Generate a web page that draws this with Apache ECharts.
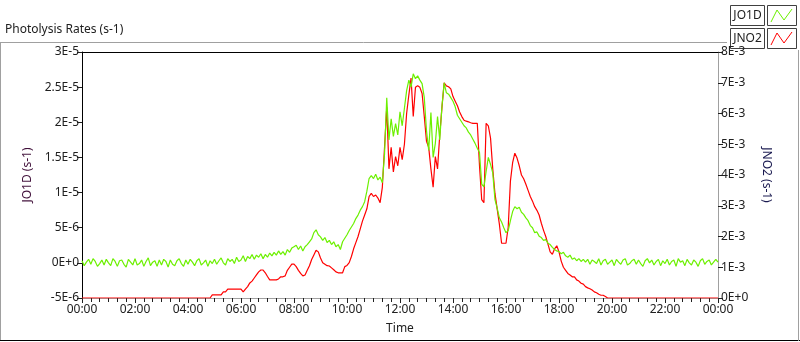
<!DOCTYPE html>
<html>
<head>
<meta charset="utf-8">
<script src="https://cdn.jsdelivr.net/npm/echarts@6/dist/echarts.min.js"></script>
<style>
html,body{margin:0;padding:0;background:#fff;}
#chart{width:800px;height:342px;}
</style>
</head>
<body>
<div id="chart"></div>
<script>
// Sample spacing (minutes) of the series below; first sample at 00:00, last at 24:00
var stepMinutes = 5;

// Tick labels of the time axis (every 2 hours)
var timeTickLabels = ['00:00','02:00','04:00','06:00','08:00','10:00','12:00','14:00','16:00','18:00','20:00','22:00','00:00'];

// JO1D in units of 1E-6 s-1 (left axis), one row per hour, 12 samples per hour
var jo1d = [
  0.3,-0.4,0.1,0.5,-0.2,0.6,0.2,-0.5,-0.1,0.4,-0.3,0.5,
  0.0,-0.4,0.6,0.2,-0.5,0.3,0.4,-0.2,-0.6,0.5,0.1,-0.3,
  0.6,-0.3,-0.1,0.4,-0.5,0.2,0.7,-0.4,0.1,0.3,-0.5,0.4,
  -0.3,0.5,0.2,-0.6,0.4,-0.2,-0.4,0.3,0.6,-0.1,-0.5,0.4,
  -0.2,0.5,0.1,-0.4,0.3,0.6,-0.3,0.0,0.4,-0.5,0.3,-0.1,
  0.5,-0.2,0.3,0.7,0.0,-0.3,0.6,0.2,0.5,-0.1,0.8,0.2,
  0.4,1.0,0.2,0.9,0.6,1.2,0.5,1.1,0.8,1.3,0.6,1.2,
  0.8,1.4,1.0,1.5,1.1,1.7,1.2,1.6,1.1,1.9,1.5,2.1,
  2.3,2.5,1.9,2.4,1.7,2.3,2.6,3.0,3.4,4.3,4.7,4.0,
  3.7,3.2,3.6,2.9,3.2,2.6,3.0,2.3,2.6,1.9,3.0,3.5,
  4.0,4.6,5.1,5.6,6.3,6.8,7.5,8.0,8.7,10.2,12.0,12.4,
  12.0,12.6,11.8,12.2,11.4,15.5,23.5,17.5,20.5,18.0,19.8,18.2,
  21.5,19.5,22.0,24.5,26.0,25.0,26.9,26.2,26.6,26.0,25.5,23.5,
  18.8,16.0,21.4,15.0,17.0,20.8,17.5,22.3,25.6,24.2,24.0,23.5,
  23.0,22.2,21.0,20.5,20.0,19.5,19.2,18.6,18.2,17.6,17.0,16.3,
  15.7,11.2,10.8,13.0,15.0,14.0,12.8,9.0,7.8,6.4,5.8,5.0,
  4.3,4.6,6.0,7.3,8.0,7.7,7.9,7.2,6.9,6.4,6.0,5.3,
  5.0,4.3,4.4,3.8,3.6,3.2,3.3,2.8,2.6,2.2,1.9,1.7,
  1.6,1.3,1.5,1.0,0.8,1.1,0.5,0.7,0.3,0.6,0.2,0.5,
  0.1,0.5,-0.2,0.4,0.2,-0.1,0.6,-0.3,0.3,0.5,-0.2,0.1,
  0.4,-0.4,0.5,0.1,-0.2,0.4,0.6,-0.3,-0.1,0.3,0.5,-0.2,
  0.4,-0.1,-0.5,0.3,0.6,0.0,0.4,-0.3,0.2,0.5,-0.4,0.3,
  -0.1,0.5,-0.3,0.2,0.4,-0.5,0.6,0.1,0.3,-0.4,0.5,0.0,
  -0.3,0.4,0.1,-0.5,0.3,0.6,-0.2,0.2,0.4,-0.3,0.1,0.5,
  0.1
];

// JNO2 in units of 1E-3 s-1 (right axis), one row per hour, 12 samples per hour
var jno2 = [
  0,0,0,0,0,0,0,0,0,0,0,0,
  0,0,0,0,0,0,0,0,0,0,0,0,
  0,0,0,0,0,0,0,0,0,0,0,0,
  0,0,0,0,0,0,0,0,0,0,0,0,
  0,0,0,0,0,0,0,0,0,0,0,0.1,
  0.1,0.1,0.1,0.1,0.2,0.2,0.29,0.29,0.29,0.29,0.29,0.29,
  0.29,0.2,0.29,0.37,0.49,0.55,0.65,0.75,0.85,0.91,0.91,0.82,
  0.7,0.59,0.59,0.59,0.59,0.62,0.69,0.69,0.72,0.9,1.0,1.1,
  1.1,1.02,0.9,0.8,0.72,0.75,0.9,1.05,1.25,1.4,1.55,1.5,
  1.3,1.15,1.1,1.05,1.04,0.98,0.92,0.85,0.82,0.82,0.82,1.02,
  1.06,1.15,1.35,1.6,1.8,2.0,2.25,2.5,2.7,2.9,3.3,3.4,
  3.3,3.35,3.25,3.1,3.6,4.9,6.2,4.2,4.9,4.1,4.6,4.3,
  4.9,4.5,5.0,6.0,6.6,7.15,5.9,6.85,6.9,6.85,6.65,5.9,
  5.1,4.9,4.2,3.6,4.6,4.2,5.3,6.2,7.0,6.9,6.87,6.8,
  6.55,6.4,6.25,6.05,5.9,5.78,5.75,5.73,5.7,5.68,5.68,5.68,
  4.3,3.2,3.1,5.68,5.6,5.2,4.2,3.4,2.9,2.4,1.78,1.78,
  1.78,2.3,3.8,4.4,4.71,4.55,4.3,4.0,3.88,3.7,3.5,3.3,
  3.15,2.97,2.85,2.7,2.43,2.2,2.0,1.75,1.5,1.42,1.6,1.7,
  1.5,1.2,1.0,0.9,0.8,0.75,0.69,0.69,0.59,0.55,0.48,0.45,
  0.37,0.33,0.3,0.26,0.2,0.17,0.12,0.09,0.09,0.05,0,0,
  0,0,0,0,0,0,0,0,0,0,0,0,
  0,0,0,0,0,0,0,0,0,0,0,0,
  0,0,0,0,0,0,0,0,0,0,0,0,
  0,0,0,0,0,0,0,0,0,0,0,0,
  0
];

var leftScale = 1e-6, rightScale = 1e-3;

function toPairs(arr) {
  return arr.map(function (v, i) { return [i * stepMinutes, v]; });
}
function sci(v, scale) {
  var real = v * scale;
  if (Math.abs(real) < 1e-15) return '0E+0';
  var e = Math.floor(Math.log10(Math.abs(real)) + 1e-9);
  var m = Math.round(real / Math.pow(10, e) * 100) / 100;
  return m + 'E' + (e >= 0 ? '+' + e : e);
}

var font = 'Noto Sans';
var chart = echarts.init(document.getElementById('chart'), null, {renderer: 'canvas'});
chart.setOption({
  animation: false,
  backgroundColor: '#ffffff',
  textStyle: {fontFamily: font},
  grid: {left: 82, right: 82, top: 52, bottom: 44, containLabel: false},
  xAxis: [{
    type: 'value', min: 0, max: 1440, interval: 120, position: 'bottom',
    name: 'Time', nameLocation: 'middle', nameGap: 25,
    nameTextStyle: {color: '#202020', fontSize: 12, fontFamily: font},
    axisLine: {onZero: false, lineStyle: {color: '#a0a0a0', width: 1}},
    axisTick: {show: true, length: 5, lineStyle: {color: '#202020'}},
    minorTick: {show: true, splitNumber: 6, length: 4, lineStyle: {color: '#202020'}},
    axisLabel: {color: '#202020', fontSize: 12, margin: 6, fontFamily: font,
      formatter: function (v) { return timeTickLabels[Math.round(v / 120)]; }},
    splitLine: {show: false}
  }, {
    type: 'value', min: 0, max: 1440, position: 'top',
    axisLine: {onZero: false, lineStyle: {color: '#000000', width: 1}},
    axisTick: {show: false}, axisLabel: {show: false}, splitLine: {show: false}
  }],
  yAxis: [{
    type: 'value', min: -5, max: 30, interval: 5, position: 'left',
    name: 'JO1D (s-1)', nameLocation: 'middle', nameGap: 46, nameRotate: 90,
    nameTextStyle: {color: '#40103a', fontSize: 12, fontFamily: font},
    axisLine: {show: true, onZero: false, lineStyle: {color: '#000000', width: 1}},
    axisTick: {show: true, length: 5, lineStyle: {color: '#202020'}},
    axisLabel: {color: '#202020', fontSize: 12, margin: 3, fontFamily: font,
      formatter: function (v) { return sci(v, leftScale); }},
    splitLine: {show: false}
  }, {
    type: 'value', min: 0, max: 8, interval: 1, position: 'right',
    name: 'JNO2 (s-1)', nameLocation: 'middle', nameGap: 42, nameRotate: -90,
    nameTextStyle: {color: '#1a1a50', fontSize: 12, fontFamily: font},
    axisLine: {show: true, onZero: false, lineStyle: {color: '#a0a0a0', width: 1}},
    axisTick: {show: true, length: 5, lineStyle: {color: '#202020'}},
    axisLabel: {color: '#202020', fontSize: 12, margin: 3, fontFamily: font,
      formatter: function (v) { return sci(v, rightScale); }},
    splitLine: {show: false}
  }],
  series: [{
    name: 'JNO2', type: 'line', yAxisIndex: 1, data: toPairs(jno2),
    showSymbol: false, symbol: 'none',
    lineStyle: {color: '#ff0000', width: 1.2}, itemStyle: {color: '#ff0000'}
  }, {
    name: 'JO1D', type: 'line', yAxisIndex: 0, data: toPairs(jo1d),
    showSymbol: false, symbol: 'none',
    lineStyle: {color: '#6cf000', width: 1.2}, itemStyle: {color: '#6cf000'}
  }],
  graphic: [
    {type: 'text', left: 5, top: 24, style: {text: 'Photolysis Rates (s-1)', fill: '#202020', font: '12px "Noto Sans"'}},
    {type: 'line', shape: {x1: 0, y1: 42.5, x2: 727, y2: 42.5}, style: {stroke: '#a0a0a0', lineWidth: 1}},
    {type: 'line', shape: {x1: 0.5, y1: 42, x2: 0.5, y2: 341}, style: {stroke: '#a0a0a0', lineWidth: 1}},
    {type: 'line', shape: {x1: 0, y1: 340.5, x2: 800, y2: 340.5}, style: {stroke: '#000000', lineWidth: 1}},
    {type: 'line', shape: {x1: 798.5, y1: 50, x2: 798.5, y2: 341}, style: {stroke: '#a0a0a0', lineWidth: 1}},
    // legend row 1
    {type: 'rect', shape: {x: 730.5, y: 5.5, width: 34, height: 20}, style: {fill: '#fff', stroke: '#404040', lineWidth: 1}},
    {type: 'text', x: 747.5, y: 15.5, style: {text: 'JO1D', fill: '#202020', font: '12px "Noto Sans"', align: 'center', verticalAlign: 'middle'}},
    {type: 'rect', shape: {x: 767.5, y: 5.5, width: 29, height: 20}, style: {fill: '#fff', stroke: '#404040', lineWidth: 1}},
    {type: 'polyline', shape: {points: [[771, 22], [777, 10], [784, 20], [792, 9]]}, style: {stroke: '#6cf000', lineWidth: 1, fill: null}},
    // legend row 2
    {type: 'rect', shape: {x: 730.5, y: 28.5, width: 34, height: 20}, style: {fill: '#fff', stroke: '#404040', lineWidth: 1}},
    {type: 'text', x: 747.5, y: 38.5, style: {text: 'JNO2', fill: '#202020', font: '12px "Noto Sans"', align: 'center', verticalAlign: 'middle'}},
    {type: 'rect', shape: {x: 767.5, y: 28.5, width: 29, height: 20}, style: {fill: '#fff', stroke: '#404040', lineWidth: 1}},
    {type: 'polyline', shape: {points: [[771, 45], [777, 33], [784, 43], [792, 32]]}, style: {stroke: '#ff0000', lineWidth: 1, fill: null}}
  ]
});
</script>
</body>
</html>
